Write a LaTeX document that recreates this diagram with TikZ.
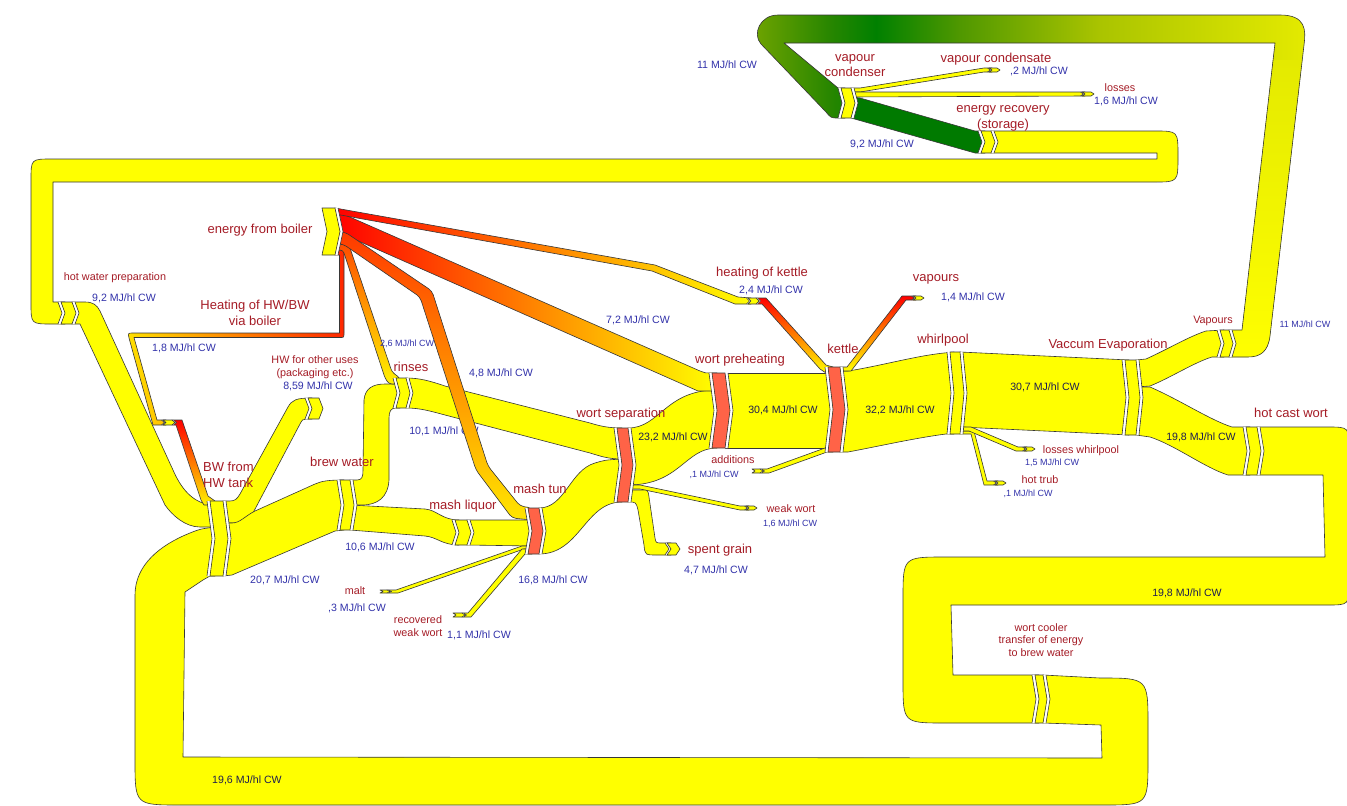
\documentclass[tikz,border=0pt]{standalone}
\usepackage{fontspec}
\setmainfont{Liberation Sans}
\definecolor{fy}{RGB}{255,255,0}
\definecolor{fo}{RGB}{255,128,0}
\definecolor{fr}{RGB}{255,0,0}
\definecolor{olc}{RGB}{55,55,55}
\definecolor{nodered}{RGB}{255,99,71}
\definecolor{labred}{RGB}{165,28,38}
\definecolor{labblue}{RGB}{50,50,170}
\definecolor{labdark}{RGB}{30,30,80}
\definecolor{ergreen}{RGB}{0,122,0}
\definecolor{gA}{RGB}{112,164,0}
\definecolor{gB}{RGB}{40,134,0}
\definecolor{gC}{RGB}{0,128,0}
\definecolor{gD}{RGB}{80,152,0}
\definecolor{gE}{RGB}{170,196,0}
\definecolor{gF}{RGB}{228,234,0}
\pgfdeclarehorizontalshading{greenloop}{100bp}{color(0bp)=(gA); color(25bp)=(gA); color(32bp)=(gB); color(36.2bp)=(gC); color(43.8bp)=(gD); color(56.4bp)=(gE); color(75bp)=(gF); color(100bp)=(gF)}
\tikzset{
 olline/.style={draw=olc, line width=0.6pt, line join=round},
 flow/.style={olline, fill=fy},
 lr/.style={text=labred, inner sep=0pt, align=center, font=\fontsize{13}{15.5}\selectfont},
 lrs/.style={text=labred, inner sep=0pt, align=center, font=\fontsize{10.8}{13}\selectfont},
 lb/.style={text=labblue, inner sep=0pt, font=\fontsize{10.6}{12}\selectfont},
 lbs/.style={text=labblue, inner sep=0pt, font=\fontsize{9}{11}\selectfont},
 ld/.style={text=labdark, inner sep=0pt, font=\fontsize{10.6}{12}\selectfont},
}
% chevron node: x0, y0, y1, w, d, colour, left gap, right gap
\newcommand\chevnode[8]{%
 \pgfmathsetmacro\cnM{(#2+#3)/2}%
 \pgfmathsetmacro\cnL{#1-#7}%
 \pgfmathsetmacro\cnLd{#1-#7+#5}%
 \pgfmathsetmacro\cnXd{#1+#5}%
 \pgfmathsetmacro\cnR{#1+#4}%
 \pgfmathsetmacro\cnRd{#1+#4+#5}%
 \pgfmathsetmacro\cnG{#1+#4+#8}%
 \pgfmathsetmacro\cnGd{#1+#4+#8+#5}%
 \ifdim #7pt>0pt
  \fill[white] (\cnL,#2) -- (#1,#2) -- (\cnXd,\cnM) -- (#1,#3) -- (\cnL,#3) -- (\cnLd,\cnM) -- cycle;
  \draw[olline] (\cnL,#2) -- (\cnLd,\cnM) -- (\cnL,#3);
 \fi
 \ifdim #8pt>0pt
  \fill[white] (\cnR,#2) -- (\cnG,#2) -- (\cnGd,\cnM) -- (\cnG,#3) -- (\cnR,#3) -- (\cnRd,\cnM) -- cycle;
  \draw[olline] (\cnG,#2) -- (\cnGd,\cnM) -- (\cnG,#3);
 \fi
 \filldraw[fill=#6, olline] (#1,#2) -- (\cnR,#2) -- (\cnRd,\cnM) -- (\cnR,#3) -- (#1,#3) -- (\cnXd,\cnM) -- cycle;
}
\def\greenpath{(1229,330) -- (1242,330) -- (1275,43) -- (784,43) -- (838,88) -- (845,88) -- (845,118) -- (838,118) .. controls (831,118) .. (826,112) -- (761,44) .. controls (752,34) and (760,15) .. (778,15) -- (1280,15) .. controls (1306,15) and (1306,30) .. (1304,45) -- (1270,336) .. controls (1268,352) and (1260,357) .. (1248,357) -- (1229,357) -- cycle}
\begin{document}
\begin{tikzpicture}[x=1pt,y=-1pt]
\useasboundingbox (0,0) rectangle (1347,806);
\fill[white] (0,0) rectangle (1347,806);

% ---------- big loops ----------
% wort cooler -> BW from HW tank (19,6)
\draw[flow] (1043,675) -- (1100,678) .. controls (1148,678) .. (1148,725) -- (1148,760) .. controls (1148,805) .. (1103,805) -- (180,805) .. controls (135,805) .. (135,760) -- (135,595) .. controls (135,565) and (160,545) .. (190,533) .. controls (200,529) .. (215,527) -- (215,576) -- (210,576) -- (203,580) -- (185,592) -- (183,757) -- (1102,758) -- (1101,725) -- (1043,723) -- cycle;
% hot cast wort -> wort cooler (19,8)
\draw[flow] (1257,427) -- (1327,427) .. controls (1349,427) .. (1349,449) -- (1349,583) .. controls (1349,605) .. (1327,605) -- (951,605) -- (953,675) -- (1039,675) -- (1039,723) -- (945,723) .. controls (903,723) .. (903,681) -- (903,599) .. controls (903,557) .. (945,557) -- (1325,557) -- (1323,475) -- (1257,475) -- cycle;
% energy recovery -> hot water preparation (9,2)
\draw[flow] (991,131) -- (1155,131) .. controls (1178,131) .. (1178,156) .. controls (1178,182) .. (1155,182) -- (53,182) -- (53,302) -- (65,302) -- (65,324) -- (52,324) .. controls (31,324) .. (31,303) -- (31,180) .. controls (31,159) .. (52,159) -- (1157,159) -- (1157,153) -- (991,153) -- cycle;
% Vapours -> vapour condenser (11), green gradient
\shade[shading=greenloop] \greenpath;
\begin{scope}
 \clip \greenpath;
 \shade[top color=gF, bottom color=fy] (1230,60) rectangle (1320,360);
\end{scope}
\draw[olline] \greenpath;

% ---------- vapour condenser outputs ----------
\draw[flow] (851,88) -- (860,88) -- (984,68) -- (992,68) -- (992,72) -- (984,72) -- (860,92) -- (851,92) -- cycle;
\draw[flow] (851,92) -- (1085,92) -- (1085,96) -- (851,97) -- cycle;
\draw[olline, fill=ergreen] (851,97) -- (860,98) -- (975,131) -- (985,131) -- (985,153) -- (975,153) -- (851,118) -- cycle;

% ---------- hot water side ----------
\draw[flow] (72,302) -- (85,302) .. controls (93,302) and (97,305) .. (100,311) -- (173,470) .. controls (180,486) and (192,505) .. (215,505) -- (215,527) -- (200,527) .. controls (185,527) and (172,515) .. (165,505) -- (80,324) -- (72,324) -- cycle;
\draw[flow] (223,501) -- (230,501) .. controls (235,501) and (237,499) .. (240,494) -- (288,407) .. controls (292,400) and (296,398) .. (312,398) -- (312,419) -- (306,419) .. controls (303,419) and (302,420) .. (300,424) -- (254,511) .. controls (250,518) and (245,523) .. (235,523) -- (223,523) -- cycle;
\draw[flow] (223,523) -- (232,523) .. controls (240,523) and (245,516) .. (255,511) -- (315,484) .. controls (322,481) and (328,480) .. (344,480) -- (344,530) -- (335,531) -- (232,575) -- (223,576) -- cycle;
\draw[flow] (350,505) -- (425,509) .. controls (437,510) and (442,520) .. (459,520) -- (459,545) .. controls (442,545) and (437,537) .. (425,536) -- (350,530) -- cycle;
\draw[flow] (350,480) -- (357,480) .. controls (362,480) and (363,477) .. (363,470) -- (364,400) .. controls (365,389) and (372,384) .. (385,384) -- (400,384) -- (400,408) -- (396,408) .. controls (391,408) and (389,411) .. (389,418) -- (389,480) .. controls (388,497) and (378,505) .. (362,505) -- (350,505) -- cycle;
\draw[flow] (467,520) -- (532,520) -- (532,546) -- (467,545) -- cycle;
\draw[flow] (387,590) -- (396,590) -- (522,546) -- (532,546) -- (532,549) -- (524,549) -- (398,593) -- (387,593) -- cycle;
\draw[flow] (462,613) -- (468,613) -- (522,549) -- (532,549) -- (532,554) -- (525,554) -- (471,617) -- (462,617) -- cycle;

% ---------- wort path ----------
\draw[flow] (406,378) .. controls (420,378) and (430,381) .. (445,386) -- (590,423) .. controls (600,426) and (608,428) .. (622,428) -- (622,459) .. controls (608,459) and (600,456) .. (590,453) -- (445,415) .. controls (430,411) and (420,408) .. (406,408) -- cycle;
\draw[flow] (539,508) .. controls (565,508) and (570,470) .. (595,463) .. controls (605,460) .. (622,459) -- (622,502) .. controls (585,502) and (580,554) .. (539,554) -- cycle;
\draw[flow] (628,428) .. controls (660,428) and (665,390) .. (717,390) -- (717,448) .. controls (685,448) and (680,485) .. (628,485) -- cycle;
\draw[flow] (628,485) -- (640,485) -- (740,506) -- (749,506) -- (749,510) -- (740,510) -- (640,489) -- (628,489) -- cycle;
\draw[flow] (628,490) -- (642,490) .. controls (648,490) .. (649,497) -- (655,538) .. controls (656,543) .. (662,543) -- (671,543) -- (671,555) -- (657,555) .. controls (645,555) .. (644,545) -- (638,510) .. controls (636,502) .. (628,502) -- cycle;
\draw[flow] (725,373) -- (833,373) -- (833,448) -- (725,448) -- cycle;
\draw[flow] (760,469) -- (767,469) -- (825,448) -- (833,448) -- (833,452) -- (827,452) -- (769,473) -- (760,473) -- cycle;
\draw[flow] (840,371) -- (848,371) .. controls (880,366) and (915,356) .. (944,353) -- (954,352) -- (954,434) -- (946,434) .. controls (915,438) and (880,446) .. (848,452) -- (840,452) -- cycle;
\draw[flow] (960,352) -- (1129,360) -- (1129,435) -- (960,427) -- cycle;
\draw[flow] (960,431) -- (974,431) -- (987,481) -- (998,481) -- (998,485) -- (984,485) -- (971,434) -- (960,434) -- cycle;
\draw[flow] (960,427) -- (971,427) -- (1018,447) -- (1027,447) -- (1027,451) -- (1016,451) -- (969,431) -- (960,431) -- cycle;
\draw[flow] (1136,360) -- (1146,359) .. controls (1170,348) and (1190,336) .. (1206,331) -- (1224,330) -- (1224,357) -- (1212,357) .. controls (1195,362) and (1170,378) .. (1150,386) -- (1136,387) -- cycle;
\draw[flow] (1136,387) -- (1150,387) .. controls (1180,400) and (1210,420) .. (1232,427) -- (1250,427) -- (1250,475) -- (1228,475) .. controls (1205,468) and (1175,445) .. (1150,437) -- (1136,435) -- cycle;

\node[lb] (v101) at (444,431) {10,1 MJ/hl CW};

% ---------- energy from boiler ----------
\shadedraw[olline, left color=fr, middle color=fo, right color=fy] (335,214) -- (343,214) -- (700,371) .. controls (704,373) .. (717,373) -- (717,391) -- (698,391) -- (338,232) -- (335,232) -- cycle;
\shadedraw[olline, left color=fr, middle color=fo, right color=fy] (335,208) -- (655,265) -- (738,297) -- (751,298) -- (751,304) -- (735,304) -- (652,271) -- (335,214) -- cycle;
\shadedraw[olline, top color=fr, middle color=fo, bottom color=fy] (756,298) -- (766,298) -- (826,365) -- (833,367) -- (833,373) -- (826,373) -- (820,369) -- (762,304) -- (756,304) -- cycle;
\shadedraw[olline, left color=fy!75!fo, middle color=fo, right color=fr!70!fo] (335,250) -- (340,250) .. controls (344,250) .. (344,254) -- (344,333) .. controls (344,337.5) .. (340,337.5) -- (134,337.5) -- (157,420) -- (166,420) -- (166,425) -- (153,425) -- (129,338) .. controls (128,333) .. (133,333) -- (339.5,333) -- (339.5,255) -- (335,255) -- cycle;
\shadedraw[olline, top color=fr, middle color=fo, bottom color=fy!90!fo] (172,420) -- (182,420) -- (208,496) -- (215,501) -- (215,505) -- (204,505) -- (201,500) -- (176,425) -- (172,425) -- cycle;
\shadedraw[olline, top color=fo!60!fr, middle color=fo!60!fy, bottom color=fy!90!fo, rounded corners=3pt] (335,244) -- (349,245) -- (392,372) -- (400,378) -- (400,384) -- (389,384) -- (385,378) -- (343,250) -- (335,250) -- cycle;
\shadedraw[olline, top color=fo!45!fr, middle color=fo!70!fy, bottom color=fy!80!fo, rounded corners=4pt] (335,232) -- (345,232) -- (432,291) -- (488,466) -- (520,506) -- (532,508) -- (532,520) -- (512,518) -- (476,470) -- (420,297) -- (343,244) -- (335,244) -- cycle;
\shadedraw[olline, top color=fr, middle color=fo, bottom color=fy] (840,367) -- (847,367) -- (902,296) -- (916,296) -- (916,300) -- (906,300) -- (851,371) -- (840,371) -- cycle;

% ---------- nodes ----------
\chevnode{322}{208}{255}{13}{5}{fy}{0}{3}
\chevnode{61}{302}{324}{11}{4}{fy}{3}{3}
\chevnode{210}{501}{576}{13}{5}{fy}{3}{3}
\chevnode{308}{398}{419}{11}{4}{fy}{3}{0}
\chevnode{340}{480}{530}{10}{4}{fy}{3}{3}
\chevnode{396}{378}{408}{10}{4}{fy}{3}{3}
\chevnode{455}{520}{545}{12}{4}{fy}{3}{3}
\chevnode{528}{508}{554}{11}{4}{nodered}{3}{3}
\chevnode{380}{590}{593}{7}{3}{fy}{0}{1.5}
\chevnode{453}{613}{617}{9}{3}{fy}{0}{1.5}
\chevnode{617}{428}{502}{11}{5}{nodered}{3}{3}
\chevnode{746}{506}{510}{8}{3}{fy}{1.5}{0}
\chevnode{667}{543}{555}{9}{4}{fy}{2}{0}
\chevnode{712}{373}{448}{13}{5}{nodered}{3}{3}
\chevnode{748}{298}{304}{8}{3}{fy}{1.5}{1.5}
\chevnode{163}{420}{425}{9}{3}{fy}{1.5}{1.5}
\chevnode{828}{367}{452}{12}{5}{nodered}{3}{3}
\chevnode{752}{469}{473}{8}{3}{fy}{0}{1.5}
\chevnode{913}{296}{300}{8}{3}{fy}{1.5}{0}
\chevnode{950}{352}{434}{10}{4}{fy}{3}{3}
\chevnode{1024}{447}{451}{8}{3}{fy}{1.5}{0}
\chevnode{995}{481}{485}{8}{3}{fy}{1.5}{0}
\chevnode{1125}{360}{435}{11}{4}{fy}{3}{3}
\chevnode{1220}{330}{357}{9}{4}{fy}{3}{3}
\chevnode{1246}{427}{475}{11}{4}{fy}{3}{3}
\chevnode{1035}{675}{723}{8}{4}{fy}{3}{3}
\chevnode{841}{88}{118}{10}{4}{fy}{3}{3}
\chevnode{989}{68}{72}{8}{3}{fy}{1.5}{0}
\chevnode{1082}{92}{96}{9}{3}{fy}{1.5}{0}
\chevnode{981}{131}{153}{10}{4}{fy}{3}{3}

% ---------- labels ----------
\node[lr] (lEFB) at (260,230) {energy from boiler};
\node[lr] (lHeat) at (255,313) {Heating of HW/BW\\via boiler};
\node[lr] (lRinses) at (411,367) {rinses};
\node[lr, anchor=west, align=left, font=\fontsize{13}{16}\selectfont] (lBW) at (203,475) {BW from\\HW tank};
\node[lr] (lBrew) at (342,462) {brew water};
\node[lr] (lML) at (463,506) {mash liquor};
\node[lr] (lMT) at (540,489) {mash tun};
\node[lr] (lWS) at (621,414) {wort separation};
\node[lr] (lWP) at (740,360) {wort preheating};
\node[lr] (lHK) at (762,273) {heating of kettle};
\node[lr] (lKet) at (843,349) {kettle};
\node[lr] (lVap) at (936,279) {vapours};
\node[lr] (lWhirl) at (943,340) {whirlpool};
\node[lr] (lVE) at (1108,345) {Vaccum Evaporation};
\node[lr] (lHCW) at (1291,413) {hot cast wort};
\node[lr, font=\fontsize{13}{15}\selectfont] (lVC) at (855,66) {vapour\\condenser};
\node[lr] (lVCd) at (996,59) {vapour condensate};
\node[lr, font=\fontsize{13}{16}\selectfont] (lER) at (1003,118) {energy recovery\\(storage)};
\node[lr] (lSG) at (720,550) {spent grain};

\node[lrs] (lHWP) at (115,278) {hot water preparation};
\node[lrs] (lHWO) at (315,367) {HW for other uses\\(packaging etc.)};
\node[lrs] (lLoss) at (1120,88) {losses};
\node[lrs] (lVapours) at (1213,321) {Vapours};
\node[lrs] (lAdd) at (733,460) {additions};
\node[lrs] (lWW) at (791,509) {weak wort};
\node[lrs] (lLW) at (1081,451) {losses whirlpool};
\node[lrs] (lHT) at (1040,480) {hot trub};
\node[lrs] (lMalt) at (355,591) {malt};
\node[lrs] (lRWW) at (418,626) {recovered\\weak wort};
\node[lrs, font=\fontsize{10.8}{12.5}\selectfont] (lWC) at (1041,640) {wort cooler\\transfer of energy\\to brew water};

\node[lb] (v11a) at (727,65) {11 MJ/hl CW};
\node[lb] (v02) at (1039,71) {,2 MJ/hl CW};
\node[lb] (v16a) at (1126,101) {1,6 MJ/hl CW};
\node[lb] (v92a) at (882,144) {9,2 MJ/hl CW};
\node[lb] (v92b) at (124,298) {9,2 MJ/hl CW};
\node[lb] (v18) at (184,348) {1,8 MJ/hl CW};
\node[lb] (v859) at (318,386) {8,59 MJ/hl CW};
\node[lb] (v48) at (501,373) {4,8 MJ/hl CW};
\node[lb] (v72) at (638,320) {7,2 MJ/hl CW};
\node[lb] (v24) at (771,290) {2,4 MJ/hl CW};
\node[lb] (v14) at (973,297) {1,4 MJ/hl CW};
\node[lb] (v106) at (380,547) {10,6 MJ/hl CW};
\node[lb] (v207) at (285,580) {20,7 MJ/hl CW};
\node[lb] (v168) at (553,580) {16,8 MJ/hl CW};
\node[lb] (v03) at (357,608) {,3 MJ/hl CW};
\node[lb] (v11b) at (479,635) {1,1 MJ/hl CW};
\node[lb] (v47) at (716,570) {4,7 MJ/hl CW};

\node[lbs] (v26) at (407,344) {2,6 MJ/hl CW};
\node[lbs] (v01a) at (714,475) {,1 MJ/hl CW};
\node[lbs] (v16b) at (790,524) {1,6 MJ/hl CW};
\node[lbs] (v15) at (1052,463) {1,5 MJ/hl CW};
\node[lbs] (v01b) at (1028,494) {,1 MJ/hl CW};
\node[lbs] (v11c) at (1305,324) {11 MJ/hl CW};

\node[ld] (d232) at (673,437) {23,2 MJ/hl CW};
\node[ld] (d304) at (783,410) {30,4 MJ/hl CW};
\node[ld] (d322) at (900,410) {32,2 MJ/hl CW};
\node[ld] (d307) at (1045,387) {30,7 MJ/hl CW};
\node[ld] (d198a) at (1201,437) {19,8 MJ/hl CW};
\node[ld] (d198b) at (1187,593) {19,8 MJ/hl CW};
\node[ld] (d196) at (247,780) {19,6 MJ/hl CW};
\end{tikzpicture}
\end{document}
